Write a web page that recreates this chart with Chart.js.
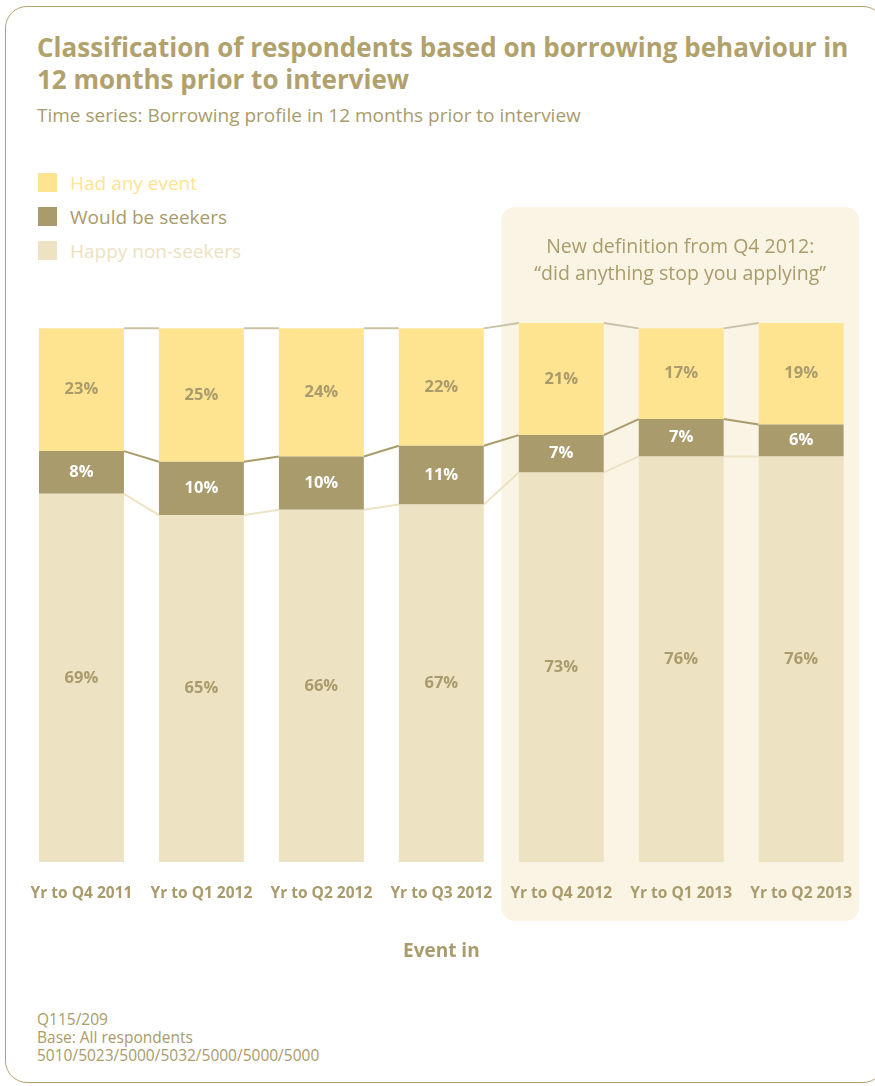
<!DOCTYPE html>
<html>
<head>
<meta charset="utf-8">
<title>Borrowing behaviour</title>
<script src="https://cdn.jsdelivr.net/npm/chart.js@4.4.1/dist/chart.umd.min.js"></script>
<style>
  body { margin: 0; background: #fff; font-family: "Open Sans", sans-serif; }
  #page { position: relative; width: 875px; height: 1086px; overflow: hidden; }
  #card {
    position: absolute; left: 5px; top: 6px; width: 880px; height: 1077px;
    border: 1.5px solid #b3a36f; border-radius: 22px; box-sizing: border-box;
  }
  h1 {
    position: absolute; left: 37px; top: 31px; margin: 0; width: 835px;
    font-size: 26px; line-height: 32px; font-weight: 700; color: #b1a16c;
    white-space: nowrap;
  }
  .sub { position: absolute; left: 37px; top: 102px; font-size: 19px; color: #a99b6b; }
  #legend { position: absolute; left: 38px; top: 166px; }
  .item { display: flex; align-items: center; height: 35px; margin-top: -1px; font-size: 19px; }
  .item span.box { width: 19px; height: 19px; margin-right: 13px; }
  .foot { position: absolute; left: 37px; top: 1010px; font-size: 15.5px; line-height: 18px; color: #a99b6b; }
  canvas { position: absolute; left: 0; top: 0; }
</style>
</head>
<body>
<div id="page">
  <div id="card"></div>
  <h1>Classification of respondents based on borrowing behaviour in<br>12 months prior to interview</h1>
  <div class="sub">Time series: Borrowing profile in 12 months prior to interview</div>
  <div id="legend"></div>
  <canvas id="chart" width="875" height="975"></canvas>
  <div class="foot">Q115/209<br>Base: All respondents<br>5010/5023/5000/5032/5000/5000/5000</div>
</div>
<script>
const periods = ['Yr to Q4 2011', 'Yr to Q1 2012', 'Yr to Q2 2012', 'Yr to Q3 2012',
                 'Yr to Q4 2012', 'Yr to Q1 2013', 'Yr to Q2 2013'];
const hadAnyEvent = [23, 25, 24, 22, 21, 17, 19];
const wouldBeSeekers = [8, 10, 10, 11, 7, 7, 6];
const happyNonSeekers = [69, 65, 66, 67, 73, 76, 76];
const newDefinitionFrom = 4; // first period with the new question wording

const olive = '#a99b6b';

// stacked bottom-up: happy, seekers, had any event
const series = [
    { label: 'Happy non-seekers', data: happyNonSeekers, color: '#ede3c2', text: olive, link: '#ede3c2' },
    { label: 'Would be seekers', data: wouldBeSeekers, color: '#a99b6b', text: '#ffffff', link: '#a99b6b' },
    { label: 'Had any event', data: hadAnyEvent, color: '#fee391', text: olive, link: '#cbc2a6' }
];

// legend, top series first
const legendBox = document.getElementById('legend');
series.slice().reverse().forEach(s => {
    const row = document.createElement('div');
    row.className = 'item';
    row.innerHTML = '<span class="box" style="background:' + s.color + '"></span>' +
        '<span style="color:' + (s.color === '#ede3c2' ? '#ece2c1' : s.color) + '">' + s.label + '</span>';
    legendBox.appendChild(row);
});

// shaded panel behind the new-definition periods
const shadePlugin = {
    id: 'shade',
    beforeDraw(chart) {
        const ctx = chart.ctx;
        const bars = chart.getDatasetMeta(0).data;
        const area = chart.chartArea;
        const step = bars[1].x - bars[0].x;
        const left = (bars[newDefinitionFrom - 1].x + bars[newDefinitionFrom].x) / 2;
        const right = bars[bars.length - 1].x + step / 2 - 2;
        const top = area.top - 68;
        const bottom = area.bottom + 59;
        ctx.save();
        ctx.fillStyle = '#faf4e4';
        ctx.beginPath();
        ctx.roundRect(left, top, right - left, bottom - top, 14);
        ctx.fill();
        ctx.fillStyle = olive;
        ctx.font = '19.5px "Open Sans", sans-serif';
        ctx.textAlign = 'center';
        ctx.textBaseline = 'middle';
        const cx = (left + right) / 2;
        ctx.fillText('New definition from Q4 2012:', cx, top + 40);
        ctx.fillText('\u201cdid anything stop you applying\u201d', cx, top + 67);
        ctx.restore();
    }
};

// lines joining the segment tops of neighbouring bars
const linkPlugin = {
    id: 'links',
    beforeDatasetsDraw(chart) {
        const ctx = chart.ctx;
        ctx.save();
        ctx.lineWidth = 2;
        series.forEach((s, i) => {
            const bars = chart.getDatasetMeta(i).data;
            ctx.strokeStyle = s.link;
            ctx.beginPath();
            for (let j = 0; j < bars.length - 1; j++) {
                const a = bars[j], b = bars[j + 1];
                ctx.moveTo(a.x + a.width / 2, a.y);
                ctx.lineTo(b.x - b.width / 2, b.y);
            }
            ctx.stroke();
        });
        ctx.restore();
    }
};

// percentage labels in the middle of each segment
const valuePlugin = {
    id: 'values',
    afterDatasetsDraw(chart) {
        const ctx = chart.ctx;
        ctx.save();
        ctx.font = 'bold 16.5px "Open Sans", sans-serif';
        ctx.textAlign = 'center';
        ctx.textBaseline = 'middle';
        series.forEach((s, i) => {
            chart.getDatasetMeta(i).data.forEach((bar, j) => {
                ctx.fillStyle = s.text;
                ctx.fillText(s.data[j] + '%', bar.x, (bar.y + bar.base) / 2);
            });
        });
        ctx.restore();
    }
};

new Chart(document.getElementById('chart'), {
    type: 'bar',
    data: {
        labels: periods,
        datasets: series.map(s => ({
            label: s.label,
            data: s.data,
            backgroundColor: s.color,
            borderWidth: 0,
            categoryPercentage: 1,
            barPercentage: 0.708
        }))
    },
    options: {
        responsive: false,
        animation: false,
        layout: { padding: { left: 21.5, right: 13.5, top: 275, bottom: 0 } },
        plugins: { legend: { display: false }, tooltip: { enabled: false } },
        scales: {
            x: {
                stacked: true,
                grid: { display: false, drawTicks: false },
                border: { display: false },
                ticks: {
                    color: olive, padding: 22, maxRotation: 0, autoSkip: false,
                    font: { family: '"Open Sans", sans-serif', size: 15.5, weight: 'bold' }
                },
                title: {
                    display: true, text: 'Event in', color: olive,
                    font: { family: '"Open Sans", sans-serif', size: 19, weight: 'bold' },
                    padding: { top: 0, bottom: 12 }
                },
                afterFit(scale) { scale.height = 113; }
            },
            y: {
                stacked: true, display: false, min: 0, max: 110
            }
        }
    },
    plugins: [shadePlugin, linkPlugin, valuePlugin]
});
</script>
</body>
</html>
